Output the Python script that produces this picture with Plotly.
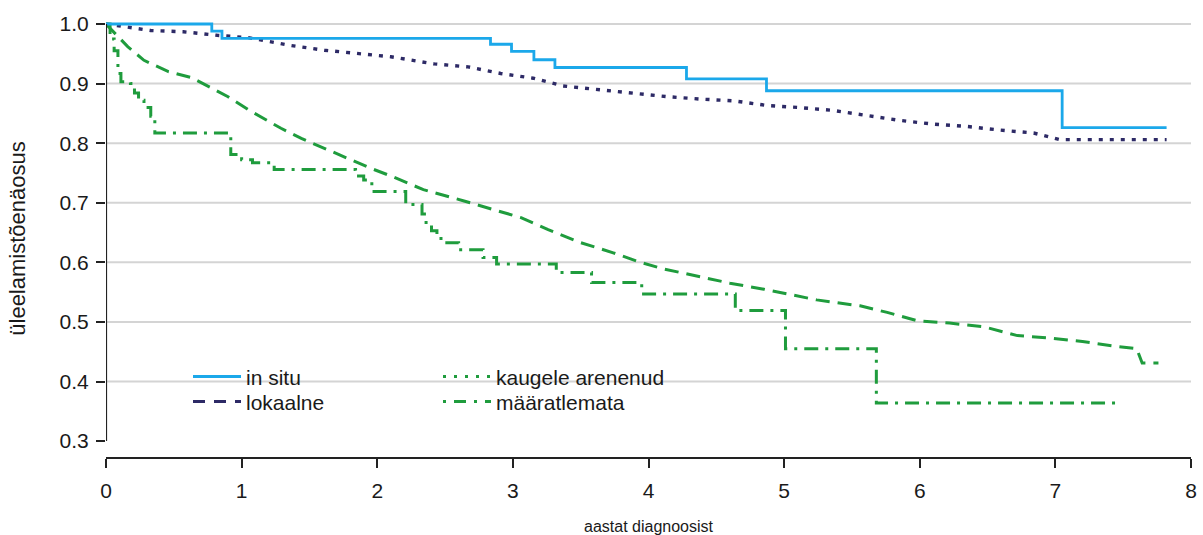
import plotly.graph_objects as go

# ---- data ----
insitu_t = [0, 0.78, 0.855, 2.835, 2.99, 3.155, 3.31, 4.28, 4.87, 7.05, 7.82]
insitu_s = [1.0, 0.988, 0.976, 0.966, 0.954, 0.940, 0.927, 0.908, 0.888, 0.826, 0.826]

lokaalne_t = [0, 0.1, 0.33, 0.57, 0.82, 1.05, 1.36, 1.61, 1.86, 2.10, 2.42, 2.67, 2.91, 3.15,
              3.37, 3.65, 3.89, 4.14, 4.38, 4.63, 4.88, 5.10, 5.36, 5.61, 5.86, 6.10, 6.35,
              6.59, 6.84, 7.03, 7.82]
lokaalne_s = [1.0, 0.997, 0.989, 0.987, 0.981, 0.977, 0.964, 0.956, 0.950, 0.945, 0.933, 0.928,
              0.917, 0.909, 0.896, 0.889, 0.884, 0.878, 0.874, 0.871, 0.863, 0.860, 0.855,
              0.847, 0.838, 0.832, 0.828, 0.822, 0.817, 0.806, 0.806]

kaugele_t = [0, 0.16, 0.28, 0.46, 0.63, 0.77, 0.90, 1.05, 1.29, 1.44, 1.66, 1.80, 1.95, 2.10,
             2.34, 2.64, 2.89, 3.06, 3.26, 3.50, 3.74, 3.94, 4.11, 4.36, 4.60, 4.85, 5.00,
             5.24, 5.56, 5.76, 5.98, 6.22, 6.47, 6.72, 6.96, 7.20, 7.45, 7.60, 7.64, 7.76]
kaugele_s = [1.0, 0.962, 0.939, 0.920, 0.910, 0.893, 0.878, 0.856, 0.825, 0.808, 0.786, 0.772,
             0.758, 0.745, 0.722, 0.703, 0.686, 0.675, 0.655, 0.633, 0.616, 0.600, 0.589,
             0.577, 0.565, 0.555, 0.548, 0.537, 0.527, 0.516, 0.502, 0.498, 0.492, 0.477,
             0.473, 0.467, 0.459, 0.455, 0.431, 0.431]

maar_t = [0, 0.03, 0.06, 0.088, 0.11, 0.18, 0.21, 0.24, 0.28, 0.33, 0.36, 0.92, 1.00, 1.08,
          1.24, 1.84, 1.90, 1.96, 2.21, 2.33, 2.36, 2.40, 2.44, 2.49, 2.60, 2.78, 2.88, 3.32,
          3.58, 3.95, 4.64, 5.01, 5.68, 7.48]
maar_s = [1.0, 0.975, 0.955, 0.917, 0.903, 0.900, 0.884, 0.872, 0.860, 0.845, 0.817, 0.781,
          0.772, 0.767, 0.756, 0.745, 0.738, 0.719, 0.697, 0.681, 0.667, 0.653, 0.640, 0.633,
          0.621, 0.608, 0.597, 0.583, 0.566, 0.547, 0.519, 0.455, 0.364, 0.364]

legend_names = ["in situ", "lokaalne", "kaugele arenenud", "määratlemata"]
x_ticks = [0, 1, 2, 3, 4, 5, 6, 7, 8]
y_ticks = [0.3, 0.4, 0.5, 0.6, 0.7, 0.8, 0.9, 1.0]
grid_vals = [0.4, 0.5, 0.6, 0.7, 0.8, 0.9, 1.0]

BLUE = "#1BA8EA"
NAVY = "#2D2A66"
GREEN = "#1F9C3D"
TXT = "#1a1a1a"
FONT = "Liberation Sans, Arial, sans-serif"

fig = go.Figure()

# data traces (no legend)
fig.add_trace(go.Scatter(x=lokaalne_t, y=lokaalne_s, mode="lines", showlegend=False,
                         line=dict(color=NAVY, width=3.4, dash="4px,7px")))
fig.add_trace(go.Scatter(x=kaugele_t, y=kaugele_s, mode="lines", showlegend=False,
                         line=dict(color=GREEN, width=3, dash="14px,8px")))
fig.add_trace(go.Scatter(x=maar_t, y=maar_s, mode="lines", line_shape="hv", showlegend=False,
                         line=dict(color=GREEN, width=3, dash="14px,7px,3px,7px")))
fig.add_trace(go.Scatter(x=insitu_t, y=insitu_s, mode="lines", line_shape="hv", showlegend=False,
                         line=dict(color=BLUE, width=2.8)))

# legend entries (as shown in the reference legend), one legend box per entry
legend_styles = [
    dict(color=BLUE, width=3),
    dict(color=NAVY, width=3, dash="12px,9px"),
    dict(color=GREEN, width=3, dash="3px,8px"),
    dict(color=GREEN, width=3, dash="3px,8px,12px,8px"),
]
legend_ids = ["legend", "legend2", "legend3", "legend4"]
for name, sty, lid in zip(legend_names, legend_styles, legend_ids):
    fig.add_trace(go.Scatter(x=[None], y=[None], mode="lines", name=name, legend=lid, line=sty))

shapes = []
for g in grid_vals:
    shapes.append(dict(type="line", xref="paper", yref="y", x0=0, x1=1, y0=g, y1=g,
                       line=dict(color="#D4D4D4", width=2), layer="below"))
shapes.append(dict(type="line", xref="x", yref="y", x0=0, x1=0, y0=y_ticks[0], y1=y_ticks[-1],
                   line=dict(color="#222222", width=2.2), layer="above"))

# plot area: top 18px, bottom 457px  (height 439)
def leg(xp, ytop):
    return dict(x=xp, y=ytop, xanchor="left", yanchor="top", bgcolor="rgba(0,0,0,0)",
                font=dict(size=21, color=TXT), itemwidth=48, tracegroupgap=0)

row1 = (457 - 356) / 439
row2 = (457 - 381) / 439
colL = (188 - 106) / 1085
colR = (438 - 106) / 1085

fig.update_layout(
    width=1203, height=535,
    margin=dict(l=106, r=12, t=18, b=78),
    paper_bgcolor="white", plot_bgcolor="white",
    font=dict(family=FONT, color=TXT),
    shapes=shapes,
    xaxis=dict(range=[0, 8], tickvals=x_ticks, ticktext=[str(v) for v in x_ticks],
               automargin=False,
               showgrid=False, zeroline=False, showline=True, linecolor="#222222", linewidth=2.2,
               ticks="outside", ticklen=9, tickwidth=2, tickcolor="#222222",
               ticklabelstandoff=5,
               tickfont=dict(size=21, color=TXT),
               title=dict(text="aastat diagnoosist", standoff=20,
                          font=dict(size=16, color=TXT))),
    yaxis=dict(range=[0.2733, 1.0067], tickvals=y_ticks, ticktext=[f"{v:.1f}" for v in y_ticks],
               automargin=True,
               showgrid=False, zeroline=False, showline=False,
               ticks="outside", ticklen=9, tickwidth=2, tickcolor="#222222",
               ticklabelstandoff=3,
               tickfont=dict(size=21, color=TXT),
               title=dict(text="üleelamistõenäosus", standoff=27, font=dict(size=22, color=TXT))),
    legend=leg(colL, row1),
    legend2=leg(colL, row2),
    legend3=leg(colR, row1),
    legend4=leg(colR, row2),
)

fig.write_html("out.html")
